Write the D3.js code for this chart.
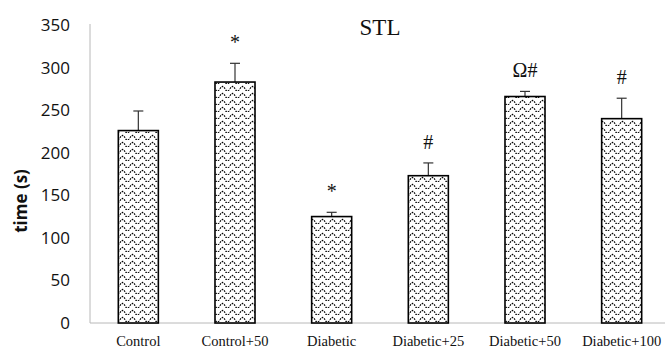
<!DOCTYPE html>
<html>
<head>
<meta charset="utf-8">
<script src="https://cdn.jsdelivr.net/npm/d3@7"></script>
<style>
  html, body { margin: 0; padding: 0; background: #fff; }
  svg { display: block; }
</style>
</head>
<body>
<svg id="chart" width="665" height="348"></svg>
<script>
// STL latency per group, mean with upper error (s)
const groups = ["Control", "Control+50", "Diabetic", "Diabetic+25", "Diabetic+50", "Diabetic+100"];
const means  = [226, 283, 125, 173, 266, 240];
const errors = [23, 22, 5, 15, 6, 24];
const marks  = ["", "*", "*", "#", "Ω#", "#"];
const yTicks = [0, 50, 100, 150, 200, 250, 300, 350];

const svg = d3.select("#chart");
const plotLeft = 90, plotRight = 670, plotTop = 25, plotBottom = 323;

const x = d3.scaleBand().domain(groups).range([plotLeft, plotRight])
  .paddingInner(0.586).paddingOuter(0.293);
const y = d3.scaleLinear().domain([0, 350]).range([plotBottom, plotTop]);

// wavy dotted fill
const defs = svg.append("defs");
const pat = defs.append("pattern")
  .attr("id", "wave").attr("patternUnits", "userSpaceOnUse")
  .attr("width", 10).attr("height", 7);
pat.append("rect").attr("width", 10).attr("height", 7).attr("fill", "#fff");
pat.append("path")
  .attr("d", "M0,4.8 Q2.5,0.2 5,4.8 T10,4.8")
  .attr("fill", "none").attr("stroke", "#000")
  .attr("stroke-width", 1.3).attr("stroke-dasharray", "1.6,1.1");

// axes lines
svg.append("line").attr("x1", plotLeft).attr("x2", 665).attr("y1", plotBottom).attr("y2", plotBottom)
  .attr("stroke", "#b8b8b8").attr("stroke-width", 1);
svg.append("line").attr("x1", plotLeft).attr("x2", plotLeft).attr("y1", plotTop - 1).attr("y2", plotBottom)
  .attr("stroke", "#b8b8b8").attr("stroke-width", 1);

// y tick labels
svg.append("g").selectAll("text").data(yTicks).join("text")
  .attr("x", 70).attr("y", d => y(d)).attr("dy", "0.35em")
  .attr("text-anchor", "end")
  .attr("font-family", "'Open Sans', 'Noto Sans', sans-serif")
  .attr("font-size", 17).attr("fill", "#111")
  .text(d => d);

// y axis title
svg.append("text")
  .attr("transform", `translate(27,${(plotTop + plotBottom) / 2 + 27}) rotate(-90)`)
  .attr("text-anchor", "middle")
  .attr("font-family", "'Open Sans', 'Noto Sans', sans-serif")
  .attr("font-weight", "bold").attr("font-size", 17).attr("fill", "#111")
  .text("time (s)");

// chart title
svg.append("text")
  .attr("x", 380).attr("y", 35).attr("text-anchor", "middle")
  .attr("font-family", "'Liberation Serif', 'Times New Roman', serif")
  .attr("font-size", 23).attr("fill", "#111")
  .text("STL");

// error bars (upper only)
const eb = svg.append("g").attr("stroke", "#333").attr("stroke-width", 1.2);
groups.forEach((g, i) => {
  const cx = x(g) + x.bandwidth() / 2;
  eb.append("line").attr("x1", cx).attr("x2", cx)
    .attr("y1", y(means[i])).attr("y2", y(means[i] + errors[i]));
  eb.append("line").attr("x1", cx - 5).attr("x2", cx + 5)
    .attr("y1", y(means[i] + errors[i])).attr("y2", y(means[i] + errors[i]));
});

// bars
svg.append("g").selectAll("rect").data(groups).join("rect")
  .attr("x", d => x(d)).attr("width", x.bandwidth())
  .attr("y", (d, i) => y(means[i]))
  .attr("height", (d, i) => y(0) - y(means[i]))
  .attr("fill", "url(#wave)").attr("stroke", "#000").attr("stroke-width", 1.6);

// significance marks
svg.append("g").selectAll("text").data(groups).join("text")
  .attr("x", d => x(d) + x.bandwidth() / 2)
  .attr("y", (d, i) => y(means[i] + errors[i]) - 14)
  .attr("text-anchor", "middle")
  .attr("font-family", "'Liberation Serif', 'Times New Roman', serif")
  .attr("font-size", 20).attr("fill", "#111")
  .text((d, i) => marks[i]);

// category labels
svg.append("g").selectAll("text").data(groups).join("text")
  .attr("x", d => x(d) + x.bandwidth() / 2).attr("y", 346)
  .attr("text-anchor", "middle")
  .attr("font-family", "'Liberation Serif', 'Times New Roman', serif")
  .attr("font-size", 14.5).attr("fill", "#111")
  .text(d => d);
</script>
</body>
</html>
